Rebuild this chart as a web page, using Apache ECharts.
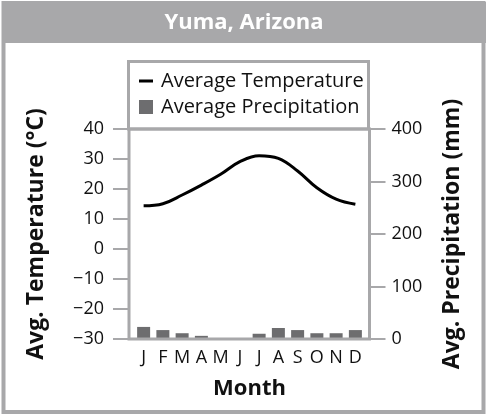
<!DOCTYPE html>
<html>
<head>
<meta charset="utf-8">
<script src="https://cdn.jsdelivr.net/npm/echarts@6/dist/echarts.min.js"></script>
<style>
html,body{margin:0;padding:0;background:#fff;}
#chart{width:488px;height:419px;}
</style>
</head>
<body>
<div id="chart"></div>
<script>
const title = 'Yuma, Arizona';
const months = ['J','F','M','A','M','J','J','A','S','O','N','D'];
const temperature = [14.4, 15.1, 18.0, 21.3, 24.9, 29.1, 31.1, 30.2, 26.0, 20.4, 16.6, 14.9];
const precipitation = [23, 17, 11, 6, 0, 0, 10, 21, 17, 11, 11, 17];
const tempTicks = {min: -30, max: 40, interval: 10};
const precTicks = {min: 0, max: 400, interval: 100};

const FONT = 'Open Sans';
const GRAY = '#a8a8aa';
const BAR = '#6d6d6f';

// layout
const W = 488, H = 419;
const gridL = 134, gridR = 365, gridT = 129, gridB = 339;
const frameL = 129, frameR = 369.5;

const chart = echarts.init(document.getElementById('chart'), null, {renderer: 'canvas'});
const minus = v => String(v).replace('-', '\u2212');

chart.setOption({
  animation: false,
  backgroundColor: '#fff',
  textStyle: {fontFamily: FONT},
  grid: {left: gridL, right: W - gridR, top: gridT, bottom: H - gridB, containLabel: false},
  legend: {
    orient: 'vertical',
    left: 139, top: 71,
    itemWidth: 14, itemHeight: 14, itemGap: 6,
    padding: 0,
    textStyle: {fontFamily: FONT, fontSize: 20, color: '#111', padding: [0, 0, 0, 3]},
    data: [
      {name: 'Average Temperature', icon: 'path://M0,0 L0.01,0 M0,5.5 L14,5.5 L14,8.5 L0,8.5 Z M14,14 L13.99,14'},
      {name: 'Average Precipitation', icon: 'rect'}
    ]
  },
  xAxis: {
    type: 'category',
    data: months,
    axisLine: {show: false},
    axisTick: {show: false},
    axisLabel: {fontFamily: FONT, fontSize: 18, color: '#111', margin: 10, interval: 0},
    name: 'Month',
    nameLocation: 'middle',
    nameGap: 39,
    nameTextStyle: {fontFamily: FONT, fontSize: 22, fontWeight: 'bold', color: '#111'}
  },
  yAxis: [
    {
      type: 'value',
      min: tempTicks.min, max: tempTicks.max, interval: tempTicks.interval,
      offset: gridL - frameL,
      axisLine: {show: false},
      axisTick: {show: true, length: 16, lineStyle: {color: GRAY, width: 2}},
      splitLine: {show: false},
      axisLabel: {fontFamily: FONT, fontSize: 18, color: '#111', margin: 25, formatter: minus},
      name: 'Avg. Temperature (\u00B0C)',
      nameLocation: 'middle',
      nameRotate: 90,
      nameGap: 81,
      nameTextStyle: {fontFamily: FONT, fontSize: 23, fontWeight: 'bold', color: '#111'}
    },
    {
      type: 'value',
      position: 'right',
      min: precTicks.min, max: precTicks.max, interval: precTicks.interval,
      offset: frameR - gridR,
      axisLine: {show: false},
      axisTick: {show: true, length: 16, lineStyle: {color: GRAY, width: 2}},
      splitLine: {show: false},
      axisLabel: {fontFamily: FONT, fontSize: 18, color: '#111', margin: 22},
      name: 'Avg. Precipitation (mm)',
      nameLocation: 'middle',
      nameRotate: 90,
      nameGap: 71,
      nameTextStyle: {fontFamily: FONT, fontSize: 23, fontWeight: 'bold', color: '#111'}
    }
  ],
  series: [
    {
      name: 'Average Precipitation',
      type: 'bar',
      yAxisIndex: 1,
      data: precipitation,
      barWidth: 13,
      itemStyle: {color: BAR},
      z: 2
    },
    {
      name: 'Average Temperature',
      type: 'line',
      yAxisIndex: 0,
      data: temperature,
      smooth: 0.4,
      symbol: 'none',
      lineStyle: {color: '#000', width: 3},
      itemStyle: {color: '#000'},
      z: 3
    }
  ],
  graphic: [
    {type: 'rect', shape: {x: 3.5, y: 3, width: 480, height: 409}, style: {fill: 'none', stroke: GRAY, lineWidth: 4}, z: 100},
    {type: 'rect', shape: {x: 2, y: 2, width: 484, height: 41}, style: {fill: GRAY}, z: 101},
    {type: 'text', x: 244, y: 23, style: {text: title, fill: '#fff', font: 'bold 22px ' + FONT, align: 'center', verticalAlign: 'middle'}, z: 102},
    {type: 'rect', shape: {x: 128.5, y: 61.5, width: 240, height: 67.5}, style: {fill: 'none', stroke: GRAY, lineWidth: 3}, z: 50},
    {type: 'rect', shape: {x: frameL, y: gridT, width: frameR - frameL, height: gridB - gridT}, style: {fill: 'none', stroke: GRAY, lineWidth: 3}, z: 50}
  ]
});
</script>
</body>
</html>
